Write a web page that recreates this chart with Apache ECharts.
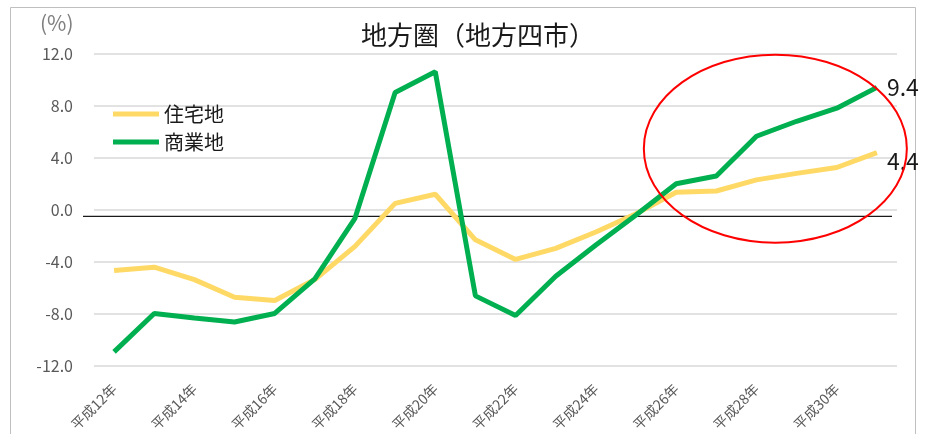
<!DOCTYPE html>
<html>
<head>
<meta charset="utf-8">
<script src="https://cdn.jsdelivr.net/npm/echarts@6/dist/echarts.min.js"></script>
<style>
  html, body { margin: 0; padding: 0; background: #fff; }
  #main { width: 928px; height: 434px; }
</style>
</head>
<body>
<div id="main"></div>
<script>
// 平成12年〜平成31年
const years = ['平成12年', '平成13年', '平成14年', '平成15年', '平成16年', '平成17年', '平成18年', '平成19年', '平成20年', '平成21年',
  '平成22年', '平成23年', '平成24年', '平成25年', '平成26年', '平成27年', '平成28年', '平成29年', '平成30年', '平成31年']
const residential = [-4.65, -4.4, -5.35, -6.7, -6.95, -5.35, -2.8, 0.5, 1.2, -2.3,
  -3.8, -2.95, -1.7, -0.3, 1.35, 1.45, 2.3, 2.8, 3.25, 4.4]
const commercial = [-10.9, -7.95, -8.3, -8.6, -7.95, -5.3, -0.65, 9.0, 10.6, -6.6,
  -8.1, -5.1, -2.7, -0.4, 2.0, 2.6, 5.65, 6.8, 7.8, 9.4]
const yTicks = [-12, -8, -4, 0, 4, 8, 12]

const font = '"Noto Sans CJK JP", "Noto Sans", sans-serif'
const lastIdx = years.length - 1

function endLabel(offset) {
  return {
    show: true,
    distance: 10,
    offset: offset,
    fontSize: 23,
    fontFamily: font,
    color: '#1a1a1a',
    formatter: function(p) { return p.value.toFixed(1) }
  }
}

const chart = echarts.init(document.getElementById('main'))
chart.setOption({
  animation: false,
  textStyle: { fontFamily: font },
  title: {
    text: '地方圏（地方四市）',
    left: 473,
    textAlign: 'center',
    top: 17,
    textStyle: { fontSize: 26, fontWeight: 'normal', color: '#1a1a1a', fontFamily: font }
  },
  legend: {
    orient: 'vertical',
    left: 108,
    top: 99,
    itemGap: 8,
    icon: 'rect',
    itemWidth: 46,
    itemHeight: 5,
    textStyle: { fontSize: 20, color: '#1a1a1a', fontFamily: font },
    data: ['住宅地', '商業地']
  },
  grid: { left: 94, right: 31, top: 53.5, bottom: 65 },
  xAxis: {
    type: 'category',
    data: years,
    boundaryGap: true,
    axisLine: { show: false },
    axisTick: { show: false },
    axisLabel: {
      interval: 1,
      rotate: 45,
      margin: 20,
      fontSize: 14,
      color: '#595959',
      fontFamily: font
    }
  },
  yAxis: {
    type: 'value',
    min: yTicks[0],
    max: yTicks[yTicks.length - 1],
    interval: 4,
    axisLine: { show: false },
    axisTick: { show: false },
    axisLabel: {
      margin: 21,
      fontSize: 16,
      color: '#595959',
      fontFamily: font,
      formatter: function(v) { return v.toFixed(1) }
    },
    splitLine: { lineStyle: { color: '#d9d9d9', width: 1.5 } }
  },
  series: [
    {
      name: '住宅地',
      type: 'line',
      data: residential,
      showSymbol: false,
      symbol: 'none',
      color: '#FFD966',
      lineStyle: { width: 5, color: '#FFD966' },
      endLabel: endLabel([0, 9]),
      z: 3
    },
    {
      name: '商業地',
      type: 'line',
      data: commercial,
      showSymbol: false,
      symbol: 'none',
      color: '#00B050',
      lineStyle: { width: 5, color: '#00B050' },
      endLabel: endLabel([0, 0]),
      z: 4
    }
  ]
})

// annotations placed from the chart's own scales
const zeroY = chart.convertToPixel({ yAxisIndex: 0 }, -0.5)
const x16 = chart.convertToPixel({ xAxisIndex: 0 }, 16)
const x17 = chart.convertToPixel({ xAxisIndex: 0 }, 17)
const step = x17 - x16
const cy = chart.convertToPixel({ yAxisIndex: 0 }, 4.7)
const gridLeft = chart.convertToPixel({ xAxisIndex: 0 }, 0) - step / 2
const gridRight = chart.convertToPixel({ xAxisIndex: 0 }, lastIdx) + step / 2

chart.setOption({
  graphic: [
    {
      type: 'rect',
      shape: { x: 10.5, y: 7.5, width: 905, height: 440 },
      style: { fill: 'none', stroke: '#bfbfbf', lineWidth: 1 },
      silent: true
    },
    {
      type: 'text',
      left: 40,
      top: 13,
      style: { text: '(%)', fill: '#7f7f7f', font: '21px ' + font }
    },
    {
      type: 'line',
      shape: { x1: gridLeft - 11, y1: zeroY, x2: gridRight - 5, y2: zeroY },
      style: { stroke: '#1a1a1a', lineWidth: 1.3 },
      z: 2,
      silent: true
    },
    {
      type: 'ellipse',
      shape: { cx: x16 + step * 0.47, cy: cy, rx: 131.5, ry: 94 },
      style: { fill: 'none', stroke: '#ff0000', lineWidth: 2 },
      z: 10,
      silent: true
    }
  ]
})
</script>
</body>
</html>
